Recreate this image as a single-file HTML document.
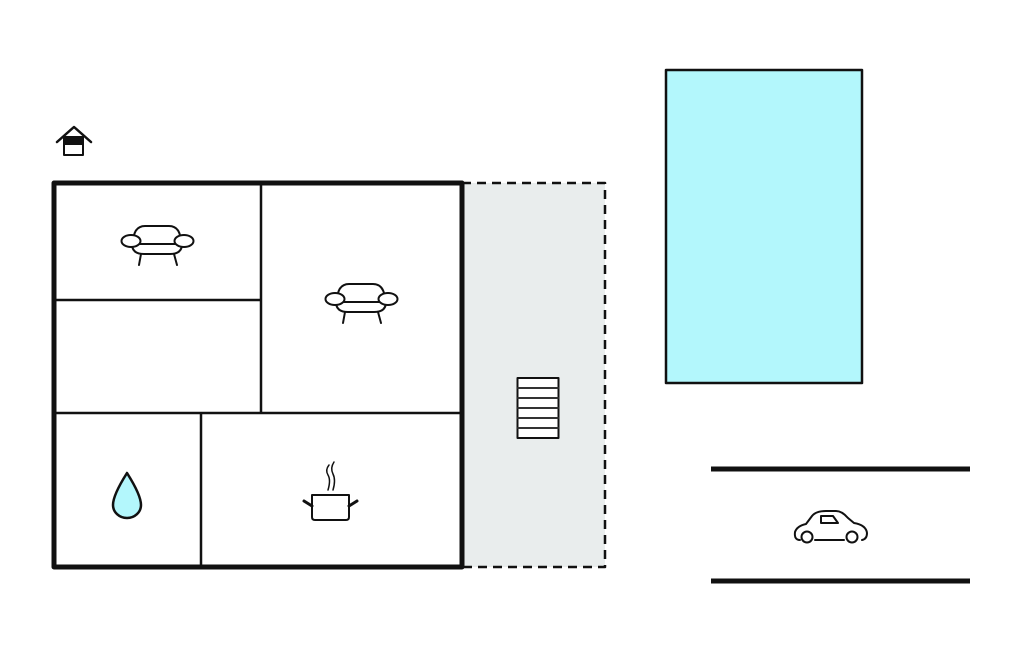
<!DOCTYPE html>
<html><head><meta charset="utf-8"><style>html,body{margin:0;padding:0;background:#fff}svg{display:block}</style></head>
<body>
<svg width="1024" height="652" viewBox="0 0 1024 652" xmlns="http://www.w3.org/2000/svg" fill="none" stroke="#111" stroke-linejoin="round" stroke-linecap="round">
<!-- house icon -->
<path d="M57 142 L74 127 L91 142" stroke-width="2.5"/>
<rect x="64" y="137" width="19" height="18" fill="#fff" stroke-width="2"/>
<rect x="64" y="137" width="19" height="8" fill="#111" stroke="none"/>
<!-- terrace -->
<rect x="462" y="183" width="143" height="384" fill="#e9eded" stroke="none"/>
<path d="M462 183 H605 V567 H462" stroke-width="2.5" stroke-dasharray="9 6" stroke-linecap="butt"/>
<!-- inner walls -->
<g stroke-width="2.5" stroke-linecap="butt">
<line x1="261" y1="182" x2="261" y2="413"/>
<line x1="53" y1="300" x2="261" y2="300"/>
<line x1="53" y1="413" x2="462" y2="413"/>
<line x1="201" y1="413" x2="201" y2="567"/>
</g>
<rect x="54" y="183" width="408" height="384" stroke-width="5"/>
<!-- stairs -->
<rect x="517.5" y="378" width="41" height="60" fill="#fff" stroke-width="2"/>
<g stroke-width="2" stroke="#333"><line x1="518" y1="388" x2="558" y2="388"/><line x1="518" y1="398" x2="558" y2="398"/><line x1="518" y1="408" x2="558" y2="408"/><line x1="518" y1="418" x2="558" y2="418"/><line x1="518" y1="428" x2="558" y2="428"/></g>
<!-- pool -->
<rect x="666" y="70" width="196" height="313" fill="#b3f7fc" stroke-width="2.5"/>
<!-- road -->
<line x1="711" y1="469" x2="970" y2="469" stroke-width="5" stroke-linecap="butt"/>
<line x1="711" y1="581" x2="970" y2="581" stroke-width="5" stroke-linecap="butt"/>
<!-- sofa 1 -->
<g stroke-width="2">
<path d="M133 244 Q133 226 145 226 H169 Q181 226 181 244"/>
<path d="M132 244 Q132 254 144 254 H170 Q182 254 182 244"/>
<line x1="133" y1="244" x2="181" y2="244"/>
<ellipse cx="131" cy="241" rx="9.5" ry="6" fill="#fff"/>
<ellipse cx="184" cy="241" rx="9.5" ry="6" fill="#fff"/>
<line x1="141" y1="254" x2="139" y2="265"/><line x1="174" y1="254" x2="177" y2="265"/>
</g>
<!-- sofa 2 -->
<g stroke-width="2" transform="translate(204,58)">
<path d="M133 244 Q133 226 145 226 H169 Q181 226 181 244"/>
<path d="M132 244 Q132 254 144 254 H170 Q182 254 182 244"/>
<line x1="133" y1="244" x2="181" y2="244"/>
<ellipse cx="131" cy="241" rx="9.5" ry="6" fill="#fff"/>
<ellipse cx="184" cy="241" rx="9.5" ry="6" fill="#fff"/>
<line x1="141" y1="254" x2="139" y2="265"/><line x1="174" y1="254" x2="177" y2="265"/>
</g>
<!-- drop -->
<path d="M127 473 Q141 495 141 505 A14 13 0 0 1 113 505 Q113 495 127 473 Z" fill="#b3f7fc" stroke-width="2.5"/>
<!-- pot -->
<g stroke-width="2">
<path d="M312 495 H349 V517 Q349 520 346 520 H315 Q312 520 312 517 Z" fill="#fff"/>
<line x1="304" y1="501" x2="312" y2="506" stroke-width="3"/>
<line x1="357" y1="501" x2="349" y2="506" stroke-width="3"/>
<path d="M329 465 Q325 470 328 475 Q331 480 328 490" stroke-width="1.5"/>
<path d="M334 462 Q330 468 333 474 Q336 480 333 490" stroke-width="1.5"/>
</g>
<!-- car -->
<g stroke-width="2">
<path d="M800 540 Q794 540 795 532 Q797 526 806 524 L812 516 Q816 511 826 511 H836 Q842 511 848 518 L854 523 Q866 525 867 533 Q867 539 862 540"/>
<line x1="815" y1="540" x2="844" y2="540"/>
<path d="M821 523 V516 H833 L838 523 Z"/>
<circle cx="807" cy="537" r="5.5" fill="#fff"/>
<circle cx="852" cy="537" r="5.5" fill="#fff"/>
</g>
</svg>
</body></html>
